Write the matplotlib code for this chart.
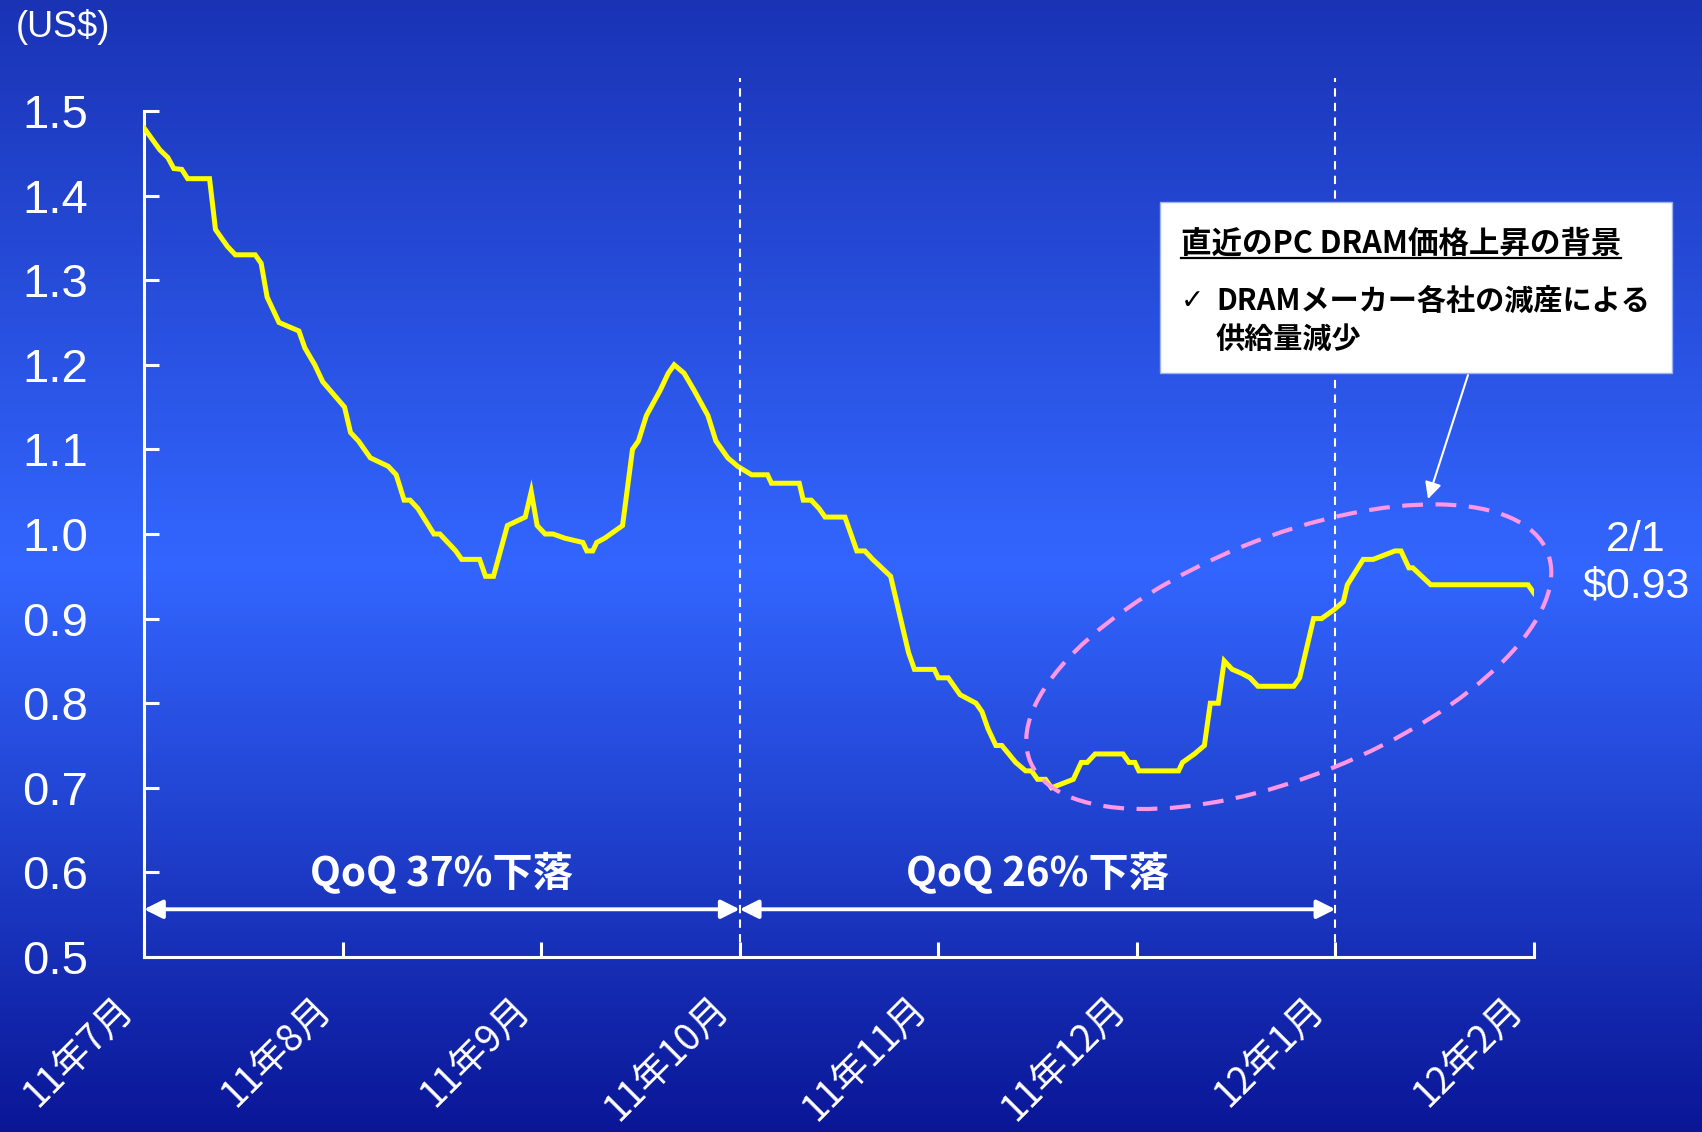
import matplotlib
matplotlib.use('Agg')
import matplotlib.pyplot as plt
import numpy as np
from matplotlib import font_manager
from matplotlib.patches import Ellipse, Rectangle
from matplotlib.lines import Line2D

# 月ラベル（x軸）
months = ['11年7月', '11年8月', '11年9月', '11年10月', '11年11月', '11年12月', '12年1月', '12年2月']
yticks = [0.5, 0.6, 0.7, 0.8, 0.9, 1.0, 1.1, 1.2, 1.3, 1.4, 1.5]

# PC DRAM価格（月単位の位置, US$）
x_pos = [0.00, 0.04, 0.08, 0.12, 0.15, 0.19, 0.22, 0.33, 0.36, 0.39, 0.42, 0.46, 0.56, 0.59,
         0.62, 0.64, 0.68, 0.78, 0.81, 0.86, 0.90, 1.01, 1.04, 1.08, 1.14, 1.23, 1.27, 1.31,
         1.34, 1.38, 1.46, 1.49, 1.57, 1.60, 1.69, 1.72, 1.76, 1.83, 1.92, 1.95, 1.98, 2.02,
         2.06, 2.12, 2.21, 2.23, 2.26, 2.28, 2.32, 2.41, 2.46, 2.49, 2.53, 2.60, 2.64, 2.67,
         2.72, 2.77, 2.84, 2.88, 2.94, 2.99, 3.06, 3.14, 3.16, 3.30, 3.32, 3.36, 3.40, 3.43,
         3.53, 3.59, 3.63, 3.67, 3.76, 3.81, 3.85, 3.88, 3.98, 4.00, 4.05, 4.11, 4.19, 4.22,
         4.25, 4.29, 4.32, 4.39, 4.44, 4.47, 4.50, 4.54, 4.57, 4.68, 4.72, 4.75, 4.79, 4.93,
         4.96, 4.99, 5.01, 5.21, 5.23, 5.29, 5.34, 5.37, 5.41, 5.44, 5.48, 5.53, 5.57, 5.61,
         5.79, 5.82, 5.86, 5.89, 5.93, 5.99, 6.04, 6.06, 6.14, 6.19, 6.30, 6.33, 6.37, 6.39,
         6.48, 6.97, 7.00]
price = [1.48, 1.467, 1.454, 1.445, 1.432, 1.431, 1.42, 1.42, 1.36, 1.35, 1.34, 1.33, 1.33, 1.32,
         1.28, 1.27, 1.25, 1.24, 1.22, 1.20, 1.18, 1.15, 1.12, 1.11, 1.09, 1.08, 1.07, 1.04,
         1.04, 1.03, 1.00, 1.00, 0.98, 0.97, 0.97, 0.95, 0.95, 1.01, 1.02, 1.05, 1.01, 1.00,
         1.00, 0.995, 0.99, 0.98, 0.98, 0.99, 0.995, 1.01, 1.10, 1.11, 1.14, 1.17, 1.19, 1.20,
         1.19, 1.17, 1.14, 1.11, 1.09, 1.08, 1.07, 1.07, 1.06, 1.06, 1.04, 1.04, 1.03, 1.02,
         1.02, 0.98, 0.98, 0.97, 0.95, 0.90, 0.86, 0.84, 0.84, 0.83, 0.83, 0.81, 0.80, 0.79,
         0.77, 0.75, 0.75, 0.73, 0.72, 0.72, 0.71, 0.71, 0.70, 0.71, 0.73, 0.73, 0.74, 0.74,
         0.73, 0.73, 0.72, 0.72, 0.73, 0.74, 0.75, 0.80, 0.80, 0.85, 0.84, 0.835, 0.83, 0.82,
         0.82, 0.83, 0.87, 0.90, 0.90, 0.91, 0.92, 0.94, 0.97, 0.97, 0.98, 0.98, 0.96, 0.96,
         0.94, 0.94, 0.93]

qoq_labels = ['QoQ 37%下落', 'QoQ 26%下落']
qoq_x = [1.5, 4.5]
quarter_lines = [3, 6]

installed = {f.name for f in font_manager.fontManager.ttflist}
num_font = 'Liberation Sans Narrow' if 'Liberation Sans Narrow' in installed else 'Liberation Sans'
jp = ['Noto Sans CJK JP', 'DejaVu Sans']

W, H = 1702, 1132
fig = plt.figure(figsize=(W / 100, H / 100), dpi=100)

# 背景グラデーション
bg = fig.add_axes([0, 0, 1, 1])
bg.axis('off')
top = np.array([26, 51, 181]) / 255
mid = np.array([51, 102, 255]) / 255
bot = np.array([10, 22, 150]) / 255
t = np.linspace(0, 1, 500)[:, None]
col = np.where(t < 0.5, top + (mid - top) * (t / 0.5), mid + (bot - mid) * ((t - 0.5) / 0.5))
bg.imshow(col[:, None, :], aspect='auto', extent=[0, 1, 0, 1])

ax = fig.add_axes([144 / W, 175 / H, 1390 / W, 846 / H])
ax.patch.set_alpha(0)
ax.set_xlim(0, 7)
ax.set_ylim(0.5, 1.5)

ax.plot(x_pos, price, color='#ffff00', lw=3.6, zorder=3, solid_joinstyle='miter')

for s in ['top', 'right']:
    ax.spines[s].set_visible(False)
for s in ['left', 'bottom']:
    ax.spines[s].set_color('white')
    ax.spines[s].set_linewidth(2.2)

ax.set_yticks(yticks)
ax.set_yticklabels(['%.1f' % v for v in yticks], fontsize=34, color='white', family=num_font)
ax.tick_params(axis='y', direction='in', length=11, width=2.2, color='white', pad=40)
ax.set_xticks(range(len(months)))
ax.set_xticklabels([''] * len(months))
ax.tick_params(axis='x', direction='in', length=11, width=2.2, color='white')

for i, m in enumerate(months):
    ax.annotate(m, xy=(i, 0), xycoords=('data', 'axes fraction'), xytext=(-22, -23),
                textcoords='offset points', rotation=45, rotation_mode='anchor',
                ha='right', va='top', fontsize=27, color='white', family=jp)

# 四半期の区切り
for q in quarter_lines:
    ax.plot([q, q], [0.5, 1.539], color='white', lw=1.5, ls=(0, (4, 3)), zorder=4, clip_on=False)

y_arrow = 0.5564
ax.annotate('', xy=(3, y_arrow), xytext=(0, y_arrow),
            arrowprops=dict(arrowstyle='<|-|>', color='white', lw=2.8, mutation_scale=28,
                            shrinkA=0, shrinkB=0))
ax.annotate('', xy=(6, y_arrow), xytext=(3, y_arrow),
            arrowprops=dict(arrowstyle='<|-|>', color='white', lw=2.8, mutation_scale=28,
                            shrinkA=0, shrinkB=0))
for lab, xq in zip(qoq_labels, qoq_x):
    ax.text(xq, 0.599, lab, ha='center', va='center', fontsize=29, fontweight='bold',
            color='white', family=jp)

# 楕円
cx, cy = ax.transData.transform((5.765, 0.855)) / fig.dpi
ell = Ellipse((cx, cy), 5.58, 2.39, angle=22, transform=fig.dpi_scale_trans, fill=False,
              ec='#ff96e6', lw=3, ls=(0, (5, 3)), zorder=5)
fig.add_artist(ell)

fig.text(16 / W, 1 - 27 / H, '(US$)', fontsize=26, color='white', family=num_font,
         ha='left', va='center')
fig.text(1636 / W, 1 - 540 / H, '2/1', fontsize=31, color='white', family=num_font,
         ha='center', va='center')
fig.text(1636 / W, 1 - 586 / H, '$0.93', fontsize=31, color='white', family=num_font,
         ha='center', va='center')

# 説明ボックス
box = Rectangle((1160 / W, 1 - 373 / H), 512 / W, 171 / H, transform=fig.transFigure,
                facecolor='white', edgecolor='#9fb4ee', lw=1, zorder=6)
fig.add_artist(box)
title = fig.text(1181 / W, 1 - 244 / H, '直近のPC DRAM価格上昇の背景', fontsize=22,
                 fontweight='bold', color='black', family=jp, ha='left', va='center', zorder=7)
fig.text(1181 / W, 1 - 301 / H, '✓', fontsize=20, color='black', family=['DejaVu Sans'],
         ha='left', va='center', zorder=7)
fig.text(1216 / W, 1 - 301 / H, 'DRAMメーカー各社の減産による', fontsize=21, fontweight='bold',
         color='black', family=jp, ha='left', va='center', zorder=7)
fig.text(1216 / W, 1 - 339 / H, '供給量減少', fontsize=21, fontweight='bold',
         color='black', family=jp, ha='left', va='center', zorder=7)

fig.canvas.draw()
bb = title.get_window_extent().transformed(fig.transFigure.inverted())
fig.add_artist(Line2D([bb.x0, bb.x1], [bb.y0 + 0.002, bb.y0 + 0.002], color='black', lw=1.6,
                      transform=fig.transFigure, zorder=7))

ax.annotate('', xy=(1428 / W, 1 - 499 / H), xycoords='figure fraction',
            xytext=(1468 / W, 1 - 375 / H), textcoords='figure fraction',
            arrowprops=dict(arrowstyle='-|>', color='white', lw=1.5, mutation_scale=25,
                            shrinkA=0, shrinkB=0))

fig.savefig('out.png', dpi=100)
